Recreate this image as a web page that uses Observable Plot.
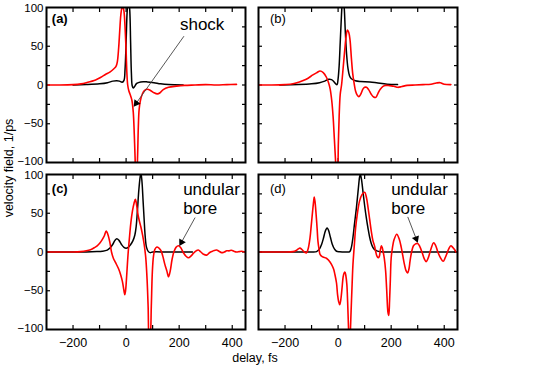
<!DOCTYPE html>
<html><head><meta charset="utf-8">
<script src="https://cdn.jsdelivr.net/npm/d3@7"></script>
<script src="https://cdn.jsdelivr.net/npm/@observablehq/plot@0.6"></script>
<style>html,body{margin:0;padding:0;background:#fff}</style>
</head><body><div id="chart"></div>
<script>
// ---- data ----
const panelNames = ["(a)", "(b)", "(c)", "(d)"];
const xTicks = [-200, -100, 0, 100, 200, 300, 400];
const xTickLabels = [-200, 0, 200, 400];
const yTicks = [-75, -50, -25, 0, 25, 50, 75];
const yTickLabelsInner = [-50, 0, 50];
const yTickLabelTop = [100];
const yTickLabelBottom = [-100];
const xLabel = "delay, fs";
const yLabel = "velocity field, 1/ps";

const aBlack = [[-200,0],[-150,0.5],[-100,1.5],[-70,3],[-50,5],[-35,5.5],[-25,5],[-15,3.5],[-8,6],[-4,20],[0,55],[4,95],[9,115],[14,95],[17,55],[20,15],[23,-1],[27,-4],[32,-2],[40,2],[55,4],[80,4],[105,3],[130,1.5],[160,0.5],[215,0]];
const aRed = [[-296,0],[-250,0],[-200,0.5],[-170,1.5],[-150,3],[-115,6.5],[-95,10],[-78,13.5],[-60,17],[-46,21],[-38,24],[-33,30],[-28,48],[-24,70],[-20,90],[-16,99],[-12,101],[-8,95],[-4,75],[0,44],[3,15],[6,0],[10,-7],[16,-13],[22,-20],[27,-35],[31,-65],[34,-95],[37,-115],[40,-115],[43,-95],[46,-55],[49,-32],[54,-20],[62,-11],[70,-7],[80,-5.5],[92,-7],[105,-10],[118,-11.5],[128,-10],[140,-6],[160,-3],[190,-1.5],[220,-0.5],[260,0],[300,0.5],[340,0],[380,0.5],[416,0.8]];
const bBlack = [[-220,0],[-150,0.5],[-100,1.5],[-70,3],[-50,5],[-35,7.5],[-25,7],[-15,4],[-8,1],[-4,0.5],[0,8],[4,25],[8,55],[12,85],[15,103],[19,112],[23,100],[27,70],[32,40],[37,22],[43,12],[50,8],[65,5.5],[85,4.5],[120,4],[150,2.5],[185,1],[224,0.5]];
const bRed = [[-300,0],[-250,0],[-200,0.5],[-170,1.5],[-150,3.5],[-120,7.5],[-95,13],[-80,16],[-68,18],[-56,16],[-44,10],[-36,3],[-30,-5],[-24,-20],[-19,-40],[-14,-70],[-10,-95],[-6,-115],[-2,-110],[1,-75],[4,-40],[8,-12],[13,0],[19,22],[25,45],[30,62],[35,71],[40,68],[45,58],[50,35],[55,15],[60,3],[66,-8],[72,-13],[78,-15],[85,-12],[94,-5],[100,-3],[107,-3],[115,-6],[125,-12],[134,-15.5],[142,-16],[150,-11],[158,-6],[168,-2],[180,-0.5],[195,-1],[210,-1.5],[225,-3],[240,-2],[260,-0.5],[290,0],[320,0.5],[350,1],[370,2.5],[385,3],[400,1],[425,0.5]];
const cBlack = [[-300,0],[-150,0],[-110,0.5],[-90,1],[-71,2.5],[-60,5.5],[-50,10],[-42,15],[-35,17],[-27,15],[-18,10],[-8,6],[0,5],[8,6],[16,9],[25,14],[33,22],[38,33],[43,55],[48,80],[53,97],[56,102],[60,90],[64,66],[68,42],[72,20],[77,6],[84,0.5],[90,-0.8],[100,0],[150,0],[200,0],[250,0]];
const cRed = [[-300,0],[-250,0],[-200,0],[-171,0.5],[-150,1.5],[-134,3],[-120,5.5],[-109,8],[-98,12],[-90,16],[-82,21],[-75,27],[-68,22],[-61,12],[-55,0],[-48,-8],[-40,-13.5],[-28,-22],[-20,-30],[-14,-38],[-8,-50],[-5,-55],[-2,-50],[1,-37],[5,-15],[8,0],[13,20],[18,38],[24,53],[30,63],[35,68],[40,60],[45,48],[50,40],[56,32],[62,22],[68,10],[74,-7],[79,-35],[83,-70],[87,-115],[91,-110],[95,-70],[99,-25],[103,-6],[108,3],[116,6.5],[124,5],[131,2],[138,-5],[146,-16],[154,-25],[160,-32],[166,-25],[173,-10],[180,0],[188,6],[198,8],[207,5],[216,-1],[226,-5.5],[235,-7.5],[245,-5],[254,-1.5],[264,1.5],[272,2.5],[282,0],[292,-3],[304,-4],[314,-1],[322,0.5],[332,2],[341,2.5],[350,1],[360,-0.8],[370,0],[379,1.5],[388,1.5],[397,2.2],[406,1],[416,0],[426,0.5],[435,1],[447,0]];
const dBlack = [[-300,0],[-150,0],[-100,0],[-81,0.5],[-70,4],[-62,10],[-55,18],[-50,25],[-45,29.5],[-41,31],[-36,28],[-29,19],[-22,10],[-14,4],[-6,1],[6,0.3],[30,0],[44,0.5],[50,6],[56,19],[62,37],[69,57],[74,74],[78,88],[81,97],[84,100],[88,94],[94,77],[100,60],[106,45],[113,30],[119,19],[125,11],[131,6],[138,3],[146,1.4],[160,0.3],[200,0],[300,0],[445,0]];
const dRed = [[-294,0],[-250,0],[-200,0],[-170,0.5],[-158,2],[-150,4],[-144,5],[-137,3.5],[-131,1.3],[-125,-0.5],[-119,-1],[-113,4],[-106,18],[-101,35],[-96,53],[-92,66],[-90,71],[-87,65],[-83,49],[-79,30],[-76,14],[-72,4],[-68,-3],[-60,-6],[-44,-8],[-35,-11],[-25,-16],[-17,-22],[-12,-29],[-6,-40],[-2,-55],[2,-64],[6,-68],[10,-62],[15,-46],[19,-32],[23,-27],[26,-26],[29,-30],[33,-42],[36,-65],[39,-95],[42,-118],[45,-110],[49,-76],[53,-40],[56,-16],[61,8],[66,31],[72,48],[81,66],[90,74],[100,77],[107,70],[113,57],[119,42],[125,27],[131,15],[138,7],[142,0],[146,-5],[151,-7.5],[155,-6],[159,2],[163,8],[166,6],[170,0],[174,-8],[179,-24],[183,-48],[188,-78],[191,-82],[194,-63],[197,-35],[200,-8],[205,6],[211,16],[221,23],[230,17],[238,6],[244,-5],[250,-16],[256,-24],[262,-27],[267,-22],[271,-12],[277,0],[284,8],[292,10.5],[300,11],[308,7],[317,-1],[325,-9],[332,-12.5],[338,-9],[344,-3],[350,4],[360,12],[367,9],[375,1],[385,-7],[396,-12],[403,-8],[409,-3],[417,4],[425,8],[432,6],[438,3.5],[444,0]];

// annotations
const annPanels = ["(a)", "(c)", "(d)"];
const annTexts = ["shock", "undular\nbore", "undular\nbore"];
const annTextX = [203, 215, 200];
const annTextY = [78, 68.7, 68.7];
const arrowFromX = [218, 260, 262.5];
const arrowFromY = [63, 44.4, 45.3];
const arrowToX = [29, 201, 300];
const arrowToY = [-28, 7.8, 12];
const labelX = [-280, -257, -280, -257];
const labelY = [85.4, 85.4, 81.1, 81.1];

// ---- tables ----
const xDomain = [-300, 450], yDomain = [-100, 100];
const panelW = 199.5, panelH = 155; // facet band size in px (for arrowhead orientation)
const colOf = {"(a)": "L", "(b)": "R", "(c)": "L", "(d)": "R"};
const rowOf = {"(a)": "T", "(b)": "T", "(c)": "B", "(d)": "B"};
function toRows(panel, pts) {
  return pts.map(([x, y]) => ({panel, x, y, col: colOf[panel], row: rowOf[panel]}));
}
const blackRows = [].concat(toRows("(a)", aBlack), toRows("(b)", bBlack), toRows("(c)", cBlack), toRows("(d)", dBlack));
const redRows = [].concat(toRows("(a)", aRed), toRows("(b)", bRed), toRows("(c)", cRed), toRows("(d)", dRed));
const sx = panelW / (xDomain[1] - xDomain[0]), sy = panelH / (yDomain[1] - yDomain[0]);
const headBack = 4.2; // px from tip to triangle centre
const annRows = annPanels.map((p, i) => {
  const dxp = (arrowToX[i] - arrowFromX[i]) * sx, dyp = -(arrowToY[i] - arrowFromY[i]) * sy;
  const len = Math.hypot(dxp, dyp), ux = dxp / len, uy = dyp / len;
  return {
    panel: p, col: colOf[p], row: rowOf[p], text: annTexts[i],
    tx: annTextX[i], ty: annTextY[i],
    x1: arrowFromX[i], y1: arrowFromY[i], x2: arrowToX[i], y2: arrowToY[i],
    hx: arrowToX[i] - ux * headBack / sx, hy: arrowToY[i] + uy * headBack / sy,
    angle: Math.atan2(ux, -uy) * 180 / Math.PI
  };
});
const labelRows = panelNames.map((p, i) => ({panel: p, col: colOf[p], row: rowOf[p], x: labelX[i], y: labelY[i]}));
const boldLabels = labelRows.filter(d => d.col === "L");
const plainLabels = labelRows.filter(d => d.col === "R");

const blank = () => "";
const yLabOpts = {anchor: "left", tickSize: 0, tickPadding: 3, fontSize: 11.5};
const chart = Plot.plot({
  width: 545,
  height: 366,
  marginLeft: 46,
  marginRight: 87,
  marginTop: 7,
  marginBottom: 37,
  style: {fontFamily: "'Liberation Sans', Arial, sans-serif", fontSize: "12px", background: "#fff", color: "#000"},
  x: {domain: xDomain, label: null},
  y: {domain: yDomain, label: null},
  fx: {domain: ["L", "R"], paddingInner: 0.061, paddingOuter: 0, axis: null, label: null},
  fy: {domain: ["T", "B"], paddingInner: 0.072, paddingOuter: 0, axis: null, label: null},
  marks: [
    // inward ticks on all four sides of every panel
    Plot.axisX({anchor: "bottom", ticks: xTicks, tickSize: -4, tickFormat: blank, facetAnchor: null, strokeWidth: 1.2}),
    Plot.axisX({anchor: "top", ticks: xTicks, tickSize: -4, tickFormat: blank, facetAnchor: null, strokeWidth: 1.2}),
    Plot.axisY({anchor: "left", ticks: yTicks, tickSize: -4, tickFormat: blank, facetAnchor: null, strokeWidth: 1.2}),
    Plot.axisY({anchor: "right", ticks: yTicks, tickSize: -4, tickFormat: blank, facetAnchor: null, strokeWidth: 1.2}),
    // tick labels
    Plot.axisX({anchor: "bottom", ticks: xTickLabels, tickSize: 0, tickPadding: 9, fontSize: 12.5}),
    Plot.axisY({...yLabOpts, ticks: yTickLabelsInner}),
    Plot.axisY({...yLabOpts, ticks: yTickLabelTop, dy: 1.2}),
    Plot.axisY({...yLabOpts, ticks: yTickLabelBottom, dy: -1}),
    // curves
    Plot.line(blackRows, {x: "x", y: "y", fx: "col", fy: "row", z: "panel", stroke: "#000", strokeWidth: 1.5, curve: "catmull-rom", clip: true}),
    Plot.line(redRows, {x: "x", y: "y", fx: "col", fy: "row", z: "panel", stroke: "#ff0000", strokeWidth: 1.6, curve: "catmull-rom", clip: true}),
    // annotations
    Plot.link(annRows, {x1: "x1", y1: "y1", x2: "hx", y2: "hy", fx: "col", fy: "row", stroke: "#444", strokeWidth: 0.9}),
    Plot.dot(annRows, {x: "hx", y: "hy", fx: "col", fy: "row", symbol: "triangle", r: 2.8, fill: "#000", stroke: "none", rotate: "angle"}),
    Plot.text(annRows.filter(d => d.text === "shock"), {x: "tx", y: "ty", fx: "col", fy: "row", text: "text", fontSize: 17, textAnchor: "start"}),
    Plot.text(annRows.filter(d => d.text !== "shock"), {x: "tx", y: "ty", fx: "col", fy: "row", text: "text", fontSize: 17, lineHeight: 1.1, textAnchor: "start"}),
    Plot.text(boldLabels, {x: "x", y: "y", fx: "col", fy: "row", text: "panel", textAnchor: "start", fontSize: 13, fontWeight: "bold"}),
    Plot.text(plainLabels, {x: "x", y: "y", fx: "col", fy: "row", text: "panel", textAnchor: "start", fontSize: 13}),
    Plot.frame({stroke: "#000", strokeWidth: 2})
  ]
});
document.getElementById("chart").appendChild(chart);

// shared axis titles
const svg = d3.select(chart.tagName.toLowerCase() === "svg" ? chart : chart.querySelector("svg"));
svg.append("text").attr("x", 255).attr("y", 358).attr("dy", "0.35em")
  .attr("text-anchor", "middle").attr("font-size", 12.5).attr("fill", "#000").text(xLabel);
svg.append("text").attr("transform", "translate(8.5,168) rotate(-90)").attr("dy", "0.35em")
  .attr("text-anchor", "middle").attr("font-size", 12.5).attr("fill", "#000").text(yLabel);
</script>
</body></html>
